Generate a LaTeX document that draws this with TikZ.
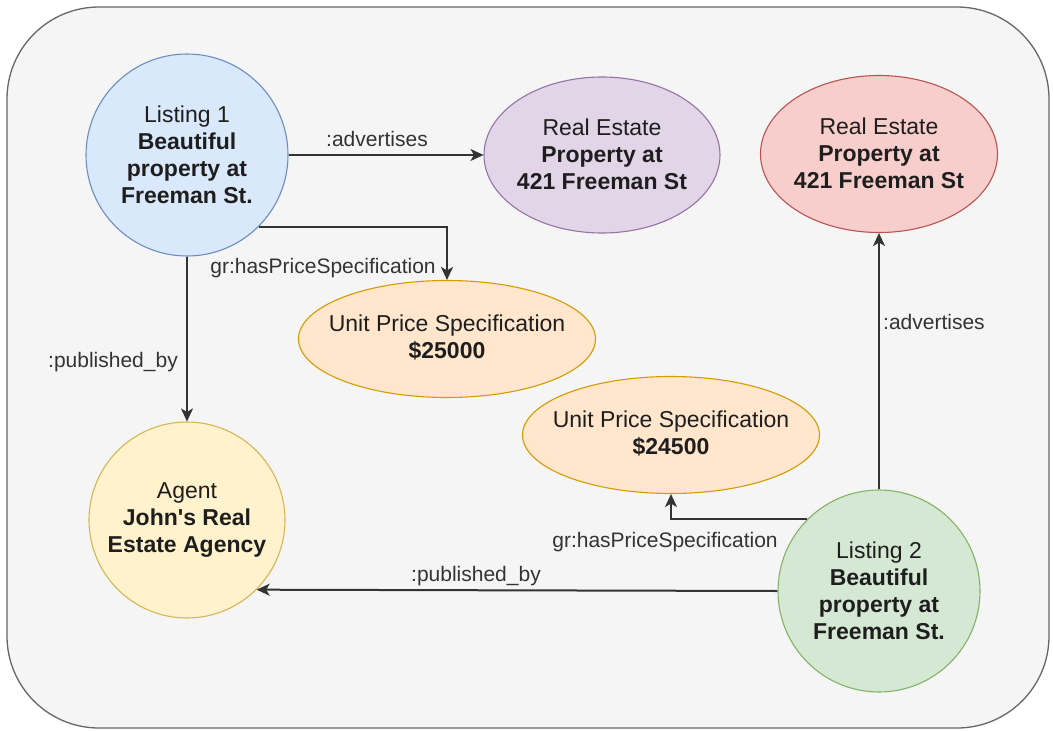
\documentclass[tikz,border=0pt]{standalone}
\usepackage{fontspec}
\setmainfont{Liberation Sans}
\usetikzlibrary{shapes.geometric,arrows.meta}
\definecolor{bgfill}{HTML}{F5F5F5}
\definecolor{bgline}{HTML}{666666}
\definecolor{bluefill}{HTML}{DAE8FC}
\definecolor{blueline}{HTML}{6C8EBF}
\definecolor{purfill}{HTML}{E1D5E7}
\definecolor{purline}{HTML}{9673A6}
\definecolor{redfill}{HTML}{F8CECC}
\definecolor{redline}{HTML}{B85450}
\definecolor{orfill}{HTML}{FFE6CC}
\definecolor{orline}{HTML}{D79B00}
\definecolor{yelfill}{HTML}{FFF2CC}
\definecolor{yelline}{HTML}{D6B656}
\definecolor{grfill}{HTML}{D5E8D4}
\definecolor{grline}{HTML}{82B366}
\definecolor{txtcol}{HTML}{1E1E1E}
\definecolor{labcol}{HTML}{333333}
\definecolor{linecol}{HTML}{333333}
\tikzset{
  circnode/.style={circle, line width=1.1pt, inner sep=0pt, minimum size=#1},
  ellnode/.style={ellipse, line width=1.1pt, inner sep=0pt, minimum width=297pt, minimum height=117pt},
  ntext/.style={align=center, inner sep=0pt, text=txtcol, font=\fontsize{23}{27}\selectfont},
  elabel/.style={inner sep=0pt, text=labcol, font=\fontsize{21}{25}\selectfont},
  conn/.style={draw=linecol, line width=2pt, -{Stealth[length=13pt,width=12pt,inset=3.5pt]}}
}
\begin{document}
\begin{tikzpicture}[x=1pt,y={(0pt,-1pt)}]
\useasboundingbox (0,0) rectangle (1053,731);
\draw[fill=bgfill, draw=bgline, line width=1.3pt, rounded corners=92pt] (7,7) rectangle (1049,728);

% shapes
\node[circnode=202pt, fill=bluefill, draw=blueline] (L1) at (187,155) {};
\node[ellipse, line width=1.1pt, inner sep=0pt, minimum width=236pt, minimum height=156pt, fill=purfill, draw=purline] (P) at (602,155) {};
\node[ellipse, line width=1.1pt, inner sep=0pt, minimum width=237pt, minimum height=157pt, fill=redfill, draw=redline] (R) at (879,154) {};
\node[ellnode, fill=orfill, draw=orline] (U1) at (447,339) {};
\node[ellnode, fill=orfill, draw=orline] (U2) at (671,435) {};
\node[circnode=196pt, fill=yelfill, draw=yelline] (A) at (187,520) {};
\node[circnode=202pt, fill=grfill, draw=grline] (L2) at (879,591) {};

% texts
\node[ntext] (L1t) at (L1) {Listing 1\\\textbf{Beautiful}\\\textbf{property at}\\\textbf{Freeman St.}};
\node[ntext] (Pt) at ([yshift=1pt]P.center) {Real Estate\\\textbf{Property at}\\\textbf{421 Freeman St}};
\node[ntext] (Rt) at ([yshift=1pt]R.center) {Real Estate\\\textbf{Property at}\\\textbf{421 Freeman St}};
\node[ntext] (U1t) at ([yshift=1pt]U1.center) {Unit Price Specification\\\textbf{\$25000}};
\node[ntext] (U2t) at ([yshift=1pt]U2.center) {Unit Price Specification\\\textbf{\$24500}};
\node[ntext] (At) at (A) {Agent\\\textbf{John\textquotesingle s Real}\\\textbf{Estate Agency}};
\node[ntext] (L2t) at (L2) {Listing 2\\\textbf{Beautiful}\\\textbf{property at}\\\textbf{Freeman St.}};

% connectors
\draw[conn] (L1.east) -- (P.west);
\draw[conn] (L1.-45) -| (U1.north);
\draw[conn] (L1.south) -- (A.north);
\draw[conn] (L2.north) -- (R.south);
\draw[conn] (L2.135) -| (U2.south);
\draw[conn] (L2.west) -- (A.-45);

% edge labels
\node[elabel] (lab1) at (377,139) {:advertises};
\node[elabel] (lab2) at (323,268) {gr:hasPriceSpecification};
\node[elabel] (lab3) at (113,362) {:published\_by};
\node[elabel, anchor=west] (lab4) at (883,322) {:advertises};
\node[elabel] (lab5) at (665,542) {gr:hasPriceSpecification};
\node[elabel] (lab6) at (476,576) {:published\_by};
\end{tikzpicture}
\end{document}
